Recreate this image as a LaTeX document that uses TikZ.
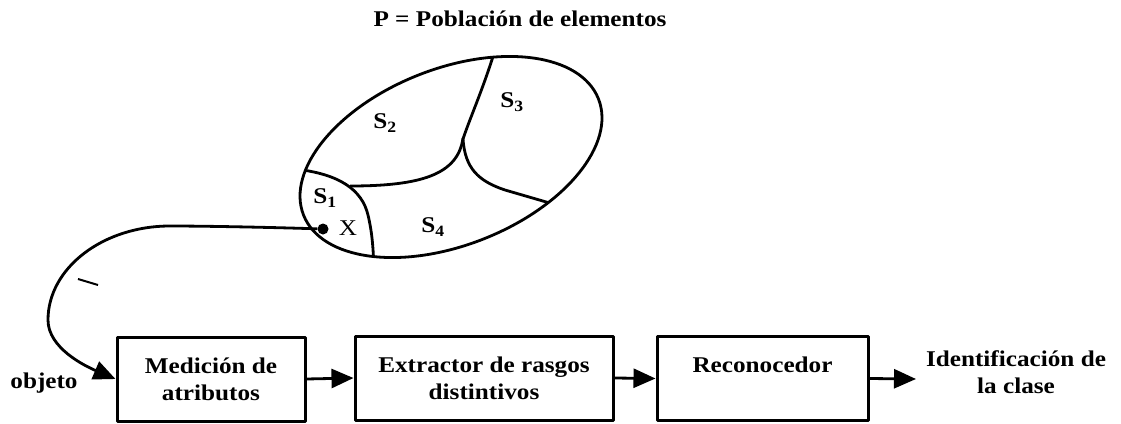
\documentclass[tikz,border=0pt]{standalone}
\usepackage{fontspec}
\setmainfont{Liberation Serif}[FakeStretch=1.12]
\usetikzlibrary{arrows.meta}
\begin{document}
\begin{tikzpicture}[x=1pt,y=-1pt,line join=round,
  txt/.style={font=\fontsize{22.5}{27}\selectfont\bfseries, inner sep=0pt},
  box/.style={txt, draw, line width=3pt, minimum height=84, minimum width=#1, align=center},
  arr/.style={line width=2.8pt, -{Triangle[length=22pt,width=19pt]}},
  reg/.style={line width=2.8pt},
  ell/.style={rotate around={21.5:(451,157)}}]
\fill[white] (0,0) rectangle (1121,423);
\useasboundingbox (0,0) rectangle (1121,423);
% title
\node[txt, anchor=base] (title) at (520,27) {P = Población de elementos};
% regions inside the population
\begin{scope}
  \clip[ell] (451,157) ellipse [x radius=158.5, y radius=88.2];
  \draw[reg] (295,169) .. controls (340,174) and (362,190) .. (368,215)
             .. controls (372,232) and (373,245) .. (374,268);
  \draw[reg] (350,186) .. controls (420,186) and (458,175) .. (463,138);
  \draw[reg] (463,139) .. controls (471,115) and (485,85) .. (498,40);
  \draw[reg] (463,139) .. controls (465,168) and (478,181) .. (505,190) -- (560,206);
\end{scope}
\draw[reg, ell] (451,157) ellipse [x radius=158.5, y radius=88.2];
\node[txt] (s1) at (325,198) {S\textsubscript{1}};
\node[txt] (s2) at (385,123) {S\textsubscript{2}};
\node[txt] (s3) at (512,102) {S\textsubscript{3}};
\node[txt] (s4) at (433,227) {S\textsubscript{4}};
\node[txt, font=\fontsize{22.5}{27}\selectfont\mdseries] (x) at (348,228) {X};
\node[circle, fill, inner sep=0pt, minimum size=11] (dot) at (323,229) {};
% pipeline
\node[box=188] (m1) at (211,379) {Medición de\\atributos};
\node[box=258] (m2) at (484,378) {Extractor de rasgos\\distintivos};
\node[box=211] (m3) at (762.5,378.5) {Reconocedor\\\mbox{}};
\coordinate (o) at (916,379);
\node[txt, align=center] (id) at (1016,372) {Identificación de\\la clase};
\node[txt] (obj) at (44,383) {objeto};
\draw[arr] (dot) .. controls (260,227) and (200,226) .. (170,226)
           .. controls (103,226) and (48,268) .. (48,320)
           .. controls (48,348) and (85,366) .. (m1.west);
\draw[line width=2pt] (78,279) -- (98,285);
\draw[arr] (m1.east) -- (m2.west);
\draw[arr] (m2.east) -- (m3.west);
\draw[arr] (m3.east) -- (o);
\end{tikzpicture}
\end{document}
